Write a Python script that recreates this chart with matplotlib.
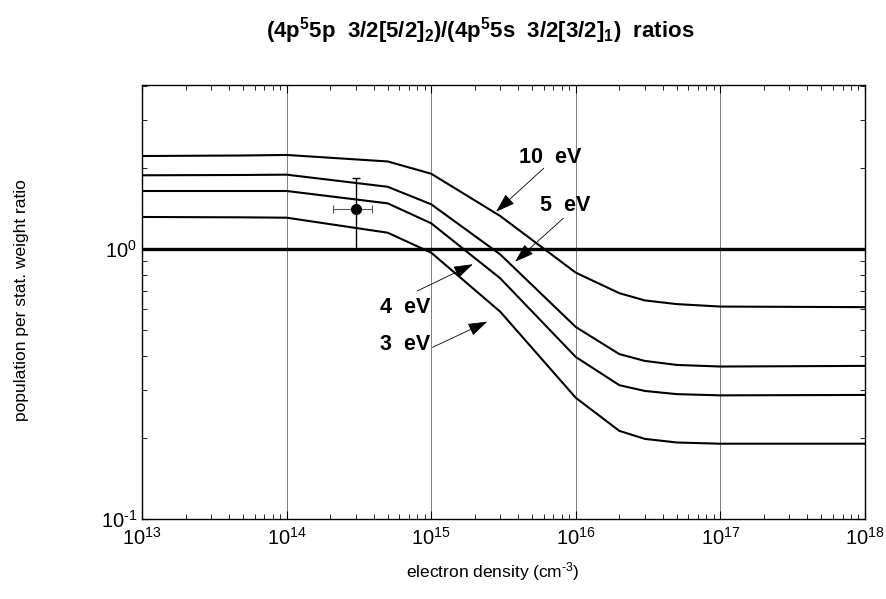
import matplotlib
matplotlib.use("Agg")
import numpy as np
import matplotlib.pyplot as plt
from matplotlib.ticker import LogLocator, NullFormatter, FuncFormatter

# === Schrift ===
plt.rcParams['font.family'] = ['Liberation Sans', 'DejaVu Sans']
plt.rcParams['mathtext.fontset'] = 'custom'
plt.rcParams['mathtext.rm'] = 'Liberation Sans'
plt.rcParams['mathtext.it'] = 'Liberation Sans:italic'
plt.rcParams['mathtext.bf'] = 'Liberation Sans:bold'

# === Daten ===
density = [1e13, 5e13, 1e14, 5e14, 1e15, 3e15, 1e16, 2e16, 3e16, 5e16, 1e17, 1e18]
ratio_10ev = [2.21, 2.22, 2.23, 2.11, 1.90, 1.325, 0.817, 0.686, 0.645, 0.625, 0.612, 0.609]
ratio_5ev = [1.875, 1.88, 1.885, 1.70, 1.464, 0.955, 0.514, 0.408, 0.385, 0.372, 0.367, 0.369]
ratio_4ev = [1.64, 1.64, 1.64, 1.476, 1.245, 0.779, 0.398, 0.313, 0.298, 0.290, 0.287, 0.288]
ratio_3ev = [1.314, 1.31, 1.306, 1.149, 0.969, 0.586, 0.281, 0.212, 0.198, 0.192, 0.190, 0.190]

meas_x = [3e14]
meas_y = [1.41]
meas_xerr = [[0.9e14], [0.9e14]]
meas_yerr = [[0.41], [0.42]]


def pow10(v, pos):
    e = int(round(np.log10(v)))
    s = str(e).replace('-', r'\text{-}')
    return r'$\mathregular{10^{%s}}$' % s


# === Grafik ===
fig = plt.figure(figsize=(8.86, 5.99), dpi=100)
ax = fig.add_axes([0.1603, 0.1336, 0.8160, 0.7245])

for vals in [ratio_10ev, ratio_5ev, ratio_4ev, ratio_3ev]:
    ax.plot(density, vals, color='black', lw=1.5)

ax.axhline(1.0, color='black', lw=2.4)

ax.errorbar(meas_x, meas_y, xerr=meas_xerr, fmt='none', ecolor='#555555',
            elinewidth=0.8, capsize=3, capthick=0.8)
ax.errorbar(meas_x, meas_y, yerr=meas_yerr, fmt='o', color='black', ms=7,
            elinewidth=1.0, capsize=3, capthick=1.0)

ax.set_xscale('log')
ax.set_yscale('log')
ax.set_xlim(1e13, 1e18)
ax.set_ylim(0.1, 4.05)

ax.xaxis.set_major_locator(LogLocator(base=10, numticks=10))
ax.xaxis.set_minor_locator(LogLocator(base=10, subs=range(2, 10), numticks=50))
ax.xaxis.set_major_formatter(FuncFormatter(pow10))
ax.yaxis.set_major_formatter(FuncFormatter(pow10))
ax.xaxis.set_minor_formatter(NullFormatter())
ax.yaxis.set_minor_formatter(NullFormatter())
ax.tick_params(which='both', direction='in', top=True, right=True, labelsize=14.5)
ax.tick_params(which='major', length=6, width=0.8)
ax.tick_params(which='minor', length=3.5, width=0.6)
ax.tick_params(axis='x', pad=6)
ax.grid(True, which='major', axis='x', color='gray', lw=0.7)
for s in ax.spines.values():
    s.set_linewidth(1.0)

# Beschriftungen der Kurven
lbl = dict(fontsize=15.5, fontweight='bold', va='center')
arr = dict(arrowstyle='-|>,head_length=0.6,head_width=0.2', color='black',
           lw=0.6, mutation_scale=20, shrinkA=0, shrinkB=0)
ax.text(6.6e15, 2.19, '10  eV', ha='center', **lbl)
ax.annotate('', xy=(2.81e15, 1.375), xytext=(6.0e15, 1.99), arrowprops=arr)
ax.text(8.4e15, 1.447, '5  eV', ha='center', **lbl)
ax.annotate('', xy=(3.8e15, 0.897), xytext=(8.2e15, 1.30), arrowprops=arr)
ax.text(9.8e14, 0.608, '4  eV', ha='right', **lbl)
ax.annotate('', xy=(1.94e15, 0.878), xytext=(8.0e14, 0.699), arrowprops=arr)
ax.text(9.8e14, 0.441, '3  eV', ha='right', **lbl)
ax.annotate('', xy=(2.44e15, 0.538), xytext=(1.02e15, 0.432), arrowprops=arr)

fig.text(480 / 886, 1 - 37 / 599,
         r'(4p$^\mathbf{5}$5p  3/2[5/2]$_\mathbf{2}$)/(4p$^\mathbf{5}$5s  3/2[3/2]$_\mathbf{1}$)  ratios',
         ha='center', va='baseline', fontsize=16, fontweight='bold')
fig.text(493 / 886, 1 - 572 / 599, r'electron density (cm$^{\text{-}3}$)',
         ha='center', va='center', fontsize=12.5)
fig.text(22 / 886, 1 - 300 / 599, 'population per stat. weight ratio',
         ha='center', va='center', rotation=90, fontsize=12.5)

fig.savefig('out.png', dpi=100)
